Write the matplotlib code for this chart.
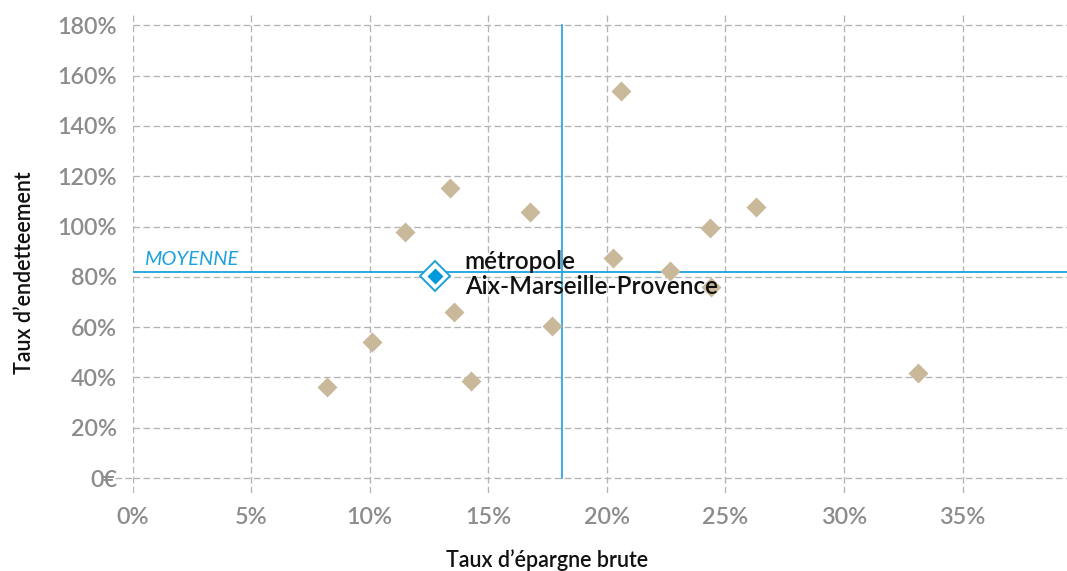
import matplotlib
matplotlib.use("Agg")
import matplotlib.pyplot as plt

plt.rcParams['font.family'] = ['Lato', 'DejaVu Sans']

# Taux d'épargne brute (x) and taux d'endettement (y) of the communes
epargne = [0.082, 0.1009, 0.1151, 0.134, 0.1357, 0.1426, 0.1677, 0.1769,
           0.2024, 0.206, 0.2267, 0.2435, 0.244, 0.2629, 0.331]
endettement = [0.362, 0.541, 0.977, 1.152, 0.661, 0.385, 1.059, 0.603,
               0.8736, 1.540, 0.822, 0.995, 0.761, 1.076, 0.419]

# The métropole itself
metro_epargne = 0.1275
metro_endettement = 0.804
metro_label = "métropole\nAix-Marseille-Provence"

# Averages
moy_epargne = 0.181
moy_endettement = 0.818

x_ticks = [0, 0.05, 0.10, 0.15, 0.20, 0.25, 0.30, 0.35]
x_labels = ['0%', '5%', '10%', '15%', '20%', '25%', '30%', '35%']
y_ticks = [0, 0.2, 0.4, 0.6, 0.8, 1.0, 1.2, 1.4, 1.6, 1.8]
y_labels = ['0€', '20%', '40%', '60%', '80%', '100%', '120%', '140%', '160%', '180%']

W, H = 1067, 571
fig = plt.figure(figsize=(W / 100, H / 100), dpi=100)
left, bottom = 132.5 / W, (H - 493) / H
ax = fig.add_axes([left, bottom, 1 - left, (493 - 14) / H])

blue = '#1ba1dc'
tan = '#c9b99a'
grid_c = '#b4b4b4'
dash = (0, (5, 2.6))

ax.set_xlim(0, 0.394)
ax.set_ylim(-0.0596, 1.845)

for s in ax.spines.values():
    s.set_visible(False)

ax.set_xticks(x_ticks)
ax.set_xticklabels(x_labels, fontweight='semibold')
ax.set_yticks(y_ticks)
ax.set_yticklabels(y_labels, fontweight='semibold')
ax.tick_params(axis='both', length=0, labelsize=16.8, labelcolor='#8c8c8c')
ax.tick_params(axis='y', pad=11)
ax.tick_params(axis='x', pad=10)

# Dashed grid
for xv in x_ticks:
    ax.axvline(xv, color=grid_c, lw=0.95, ls=dash, zorder=1)
for yv in y_ticks:
    ax.axhline(yv, color=grid_c, lw=0.95, ls=dash, zorder=1)
ax.plot([-0.0075, 0], [0, 0], color=grid_c, lw=0.95, ls=dash,
        clip_on=False, zorder=1)

# Average lines
ax.plot([moy_epargne, moy_epargne], [0, 1.8], color=blue, lw=1.2, zorder=2)
ax.axhline(moy_endettement, color=blue, lw=1.3, zorder=2)
ax.text(0.0048, moy_endettement + 0.018, "MOYENNE", color=blue, fontsize=14.5,
        fontstyle='italic', fontweight='normal', ha='left', va='bottom', zorder=4)

# Communes
ax.plot(epargne, endettement, ls='none', marker='D', ms=10.6, color=tan,
        mec='none', zorder=3)

# Métropole marker: outlined diamond around a filled one
ax.plot([metro_epargne], [metro_endettement], ls='none', marker='D', ms=15,
        mfc='white', mec=blue, mew=1.4, zorder=4)
ax.plot([metro_epargne], [metro_endettement], ls='none', marker='D', ms=8.4,
        color='#0098dc', mec='none', zorder=5)
ax.text(metro_epargne + 0.0125, metro_endettement + 0.008, metro_label,
        fontsize=17.5, fontweight='semibold', color='#111111', ha='left',
        va='center', linespacing=1.1, zorder=6)

fig.text(547 / W, 1 - 560 / H, "Taux d’épargne brute", fontsize=15.5,
         fontweight='semibold', color='#111111', ha='center', va='center')
fig.text(25 / W, 1 - 273 / H, "Taux d’endetteement", fontsize=15.5,
         fontweight='semibold', color='#111111', ha='center', va='center',
         rotation=90)

fig.savefig("out.png", dpi=100)
